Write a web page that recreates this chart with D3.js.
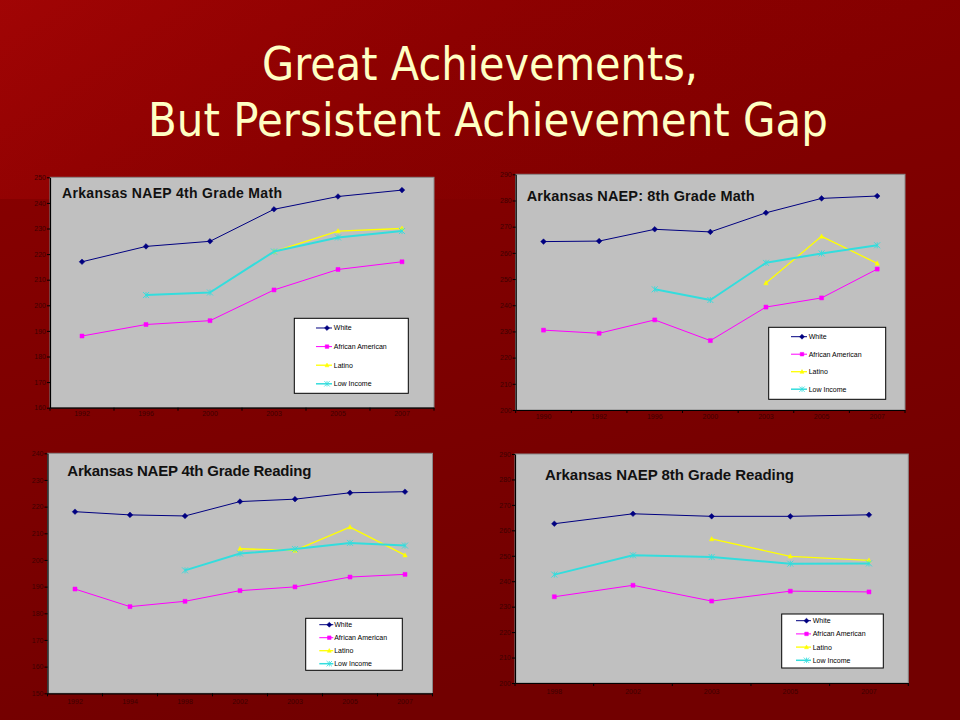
<!DOCTYPE html>
<html>
<head>
<meta charset="utf-8">
<script src="https://cdn.jsdelivr.net/npm/d3@7"></script>
<style>
  html, body { margin: 0; padding: 0; background: #7a0000; }
  svg { display: block; }
</style>
</head>
<body>
<svg id="slide" width="960" height="720"></svg>
<script>
// ---------------- DATA ----------------
const seriesNames = ["White", "African American", "Latino", "Low Income"];

const g4MathYears = ["1992", "1996", "2000", "2003", "2005", "2007"];
const g4MathWhite = [217, 223, 225, 237.5, 242.5, 245];
const g4MathAfricanAmerican = [188, 192.5, 194, 206, 214, 217];
const g4MathLatino = [null, null, null, 221, 229, 230];
const g4MathLowIncome = [null, 204, 205, 221, 226.5, 229];
const g4MathTicks = [160, 170, 180, 190, 200, 210, 220, 230, 240, 250];

const g8MathYears = ["1990", "1992", "1996", "2000", "2003", "2005", "2007"];
const g8MathWhite = [264.3, 264.5, 269, 268, 275.3, 280.8, 281.7];
const g8MathAfricanAmerican = [230.5, 229.3, 234.4, 226.5, 239.3, 242.8, 253.8];
const g8MathLatino = [null, null, null, null, 248.5, 266.3, 256];
const g8MathLowIncome = [null, null, 246.1, 242, 256.2, 259.8, 262.9];
const g8MathTicks = [200, 210, 220, 230, 240, 250, 260, 270, 280, 290];

const g4ReadYears = ["1992", "1994", "1998", "2002", "2003", "2005", "2007"];
const g4ReadWhite = [218.1, 216.9, 216.5, 221.9, 222.8, 225.2, 225.6];
const g4ReadAfricanAmerican = [189.1, 182.5, 184.5, 188.5, 189.9, 193.6, 194.6];
const g4ReadLatino = [null, null, null, 204.2, 203.6, 212.3, 201.8];
const g4ReadLowIncome = [null, null, 196.1, 202.4, 204.1, 206.4, 205.4];
const g4ReadTicks = [150, 160, 170, 180, 190, 200, 210, 220, 230, 240];

const g8ReadYears = ["1998", "2002", "2003", "2005", "2007"];
const g8ReadWhite = [262.6, 266.5, 265.5, 265.5, 266.1];
const g8ReadAfricanAmerican = [233.9, 238.4, 232.2, 236.1, 235.8];
const g8ReadLatino = [null, null, 256.6, 249.8, 248.2];
const g8ReadLowIncome = [242.6, 250.2, 249.5, 246.9, 247.0];
const g8ReadTicks = [200, 210, 220, 230, 240, 250, 260, 270, 280, 290];

const chartTitles = ["Arkansas NAEP 4th Grade Math", "Arkansas NAEP: 8th Grade Math",
                     "Arkansas NAEP 4th Grade Reading", "Arkansas NAEP 8th Grade Reading"];
const slideTitle = ["Great Achievements,", "But Persistent Achievement Gap"];

// ---------------- STYLE / LAYOUT ----------------
const seriesStyle = [
  { color: "#000080", width: 1,   marker: "diamond",  size: 2.8 },
  { color: "#ff00ff", width: 1,   marker: "square",   size: 4 },
  { color: "#ffff00", width: 1.3, marker: "triangle", size: 4 },
  { color: "#33dddd", width: 2,   marker: "star",     size: 3 }
];

const charts = [
  { years: g4MathYears, series: [g4MathWhite, g4MathAfricanAmerican, g4MathLatino, g4MathLowIncome], ticks: g4MathTicks,
    plot: { x: 50, y: 177.3, w: 384, h: 230.4 }, xlabDy: 8.5,
    title: { x: 62, y: 198, len: 220, size: 14 },
    legend: { x: 294.3, y: 318.3, w: 114, h: 75, r0: 9.7, step: 18.6, l1: 21.7, l2: 37.7, t: 39.5 } },
  { years: g8MathYears, series: [g8MathWhite, g8MathAfricanAmerican, g8MathLatino, g8MathLowIncome], ticks: g8MathTicks,
    plot: { x: 515.7, y: 174.3, w: 389.3, h: 235.7 }, xlabDy: 8.5,
    title: { x: 526.7, y: 201, len: 228, size: 14.5 },
    legend: { x: 768.7, y: 327.3, w: 117, h: 72, r0: 9.4, step: 17.5, l1: 22.3, l2: 38.3, t: 40 } },
  { years: g4ReadYears, series: [g4ReadWhite, g4ReadAfricanAmerican, g4ReadLatino, g4ReadLowIncome], ticks: g4ReadTicks,
    plot: { x: 47.5, y: 453.3, w: 385, h: 240 }, xlabDy: 11,
    title: { x: 67.3, y: 476, len: 244, size: 15 },
    legend: { x: 305.7, y: 618.3, w: 96.6, h: 52, r0: 6.4, step: 13, l1: 13.6, l2: 27.6, t: 28.5 } },
  { years: g8ReadYears, series: [g8ReadWhite, g8ReadAfricanAmerican, g8ReadLatino, g8ReadLowIncome], ticks: g8ReadTicks,
    plot: { x: 515, y: 454, w: 393.3, h: 229 }, xlabDy: 11,
    title: { x: 545, y: 480, len: 249, size: 15 },
    legend: { x: 781.7, y: 614, w: 101.6, h: 54, r0: 6.7, step: 13.2, l1: 14.3, l2: 29.3, t: 31 } }
];

const svg = d3.select("#slide");

// ---------------- BACKGROUND ----------------
const defs = svg.append("defs");
const bg = defs.append("linearGradient").attr("id", "bgGrad")
  .attr("x1", "0").attr("y1", "0").attr("x2", "0.35").attr("y2", "1");
bg.append("stop").attr("offset", "0").attr("stop-color", "#8c0000");
bg.append("stop").attr("offset", "1").attr("stop-color", "#720000");
const band = defs.append("linearGradient").attr("id", "bandGrad")
  .attr("x1", "0").attr("y1", "0").attr("x2", "1").attr("y2", "0.3");
band.append("stop").attr("offset", "0").attr("stop-color", "#a80606").attr("stop-opacity", 0.75);
band.append("stop").attr("offset", "0.5").attr("stop-color", "#9a0303").attr("stop-opacity", 0.3);
band.append("stop").attr("offset", "1").attr("stop-color", "#900000").attr("stop-opacity", 0);

svg.append("rect").attr("width", 960).attr("height", 720).attr("fill", "url(#bgGrad)");
svg.append("rect").attr("width", 960).attr("height", 199).attr("fill", "url(#bandGrad)");

// ---------------- SLIDE TITLE ----------------
const titleFont = "'DejaVu Sans', Tahoma, Verdana, sans-serif";
const titleLines = [
  { x: 262, y: 80, len: 436 },
  { x: 148, y: 136, len: 680 }
];
slideTitle.forEach((t, i) => {
  svg.append("text")
    .attr("x", titleLines[i].x).attr("y", titleLines[i].y)
    .attr("font-family", titleFont).attr("font-size", 47)
    .attr("fill", "#ffffc4")
    .attr("textLength", titleLines[i].len).attr("lengthAdjust", "spacingAndGlyphs")
    .text(t);
});

// ---------------- MARKERS ----------------
function markerPath(type, s) {
  if (type === "diamond") return `M0,${-s}L${s},0L0,${s}L${-s},0Z`;
  if (type === "square") return `M${-s/2},${-s/2}h${s}v${s}h${-s}Z`;
  if (type === "triangle") return `M0,${-s*0.6}L${s*0.55},${s*0.45}L${-s*0.55},${s*0.45}Z`;
  return `M${-s},${-s}L${s},${s}M${-s},${s}L${s},${-s}M0,${-s}L0,${s}`;
}

const labelFont = "'Liberation Sans', Arial, sans-serif";

// ---------------- CHARTS ----------------
charts.forEach((c, ci) => {
  const g = svg.append("g");
  const p = c.plot;

  const x = d3.scaleBand().domain(c.years).range([p.x, p.x + p.w]).padding(0);
  const y = d3.scaleLinear().domain([c.ticks[0], c.ticks[c.ticks.length - 1]]).range([p.y + p.h, p.y]);

  g.append("rect").attr("x", p.x).attr("y", p.y).attr("width", p.w).attr("height", p.h)
    .attr("fill", "#c0c0c0").attr("stroke", "#8a8a8a").attr("stroke-width", 1);

  const yAxis = d3.axisLeft(y).tickValues(c.ticks).tickSize(3).tickSizeOuter(0).tickFormat(d3.format("d"));
  const ya = g.append("g").attr("transform", `translate(${p.x},0)`).call(yAxis);
  ya.select(".domain").attr("stroke", "#000").attr("stroke-width", 1.2);
  ya.selectAll(".tick line").attr("stroke", "#000");
  ya.selectAll(".tick text").attr("font-family", labelFont).attr("font-size", 7)
    .attr("fill", "#3c0000").attr("x", -4);

  const xa = g.append("g").attr("transform", `translate(0,${p.y + p.h})`)
    .call(d3.axisBottom(x).tickSize(0).tickSizeOuter(0));
  xa.select(".domain").attr("stroke", "#000").attr("stroke-width", 1.2);
  xa.selectAll(".tick text").attr("font-family", labelFont).attr("font-size", 7)
    .attr("fill", "#3c0000").attr("dy", null).attr("y", c.xlabDy);
  const bounds = c.years.map(d => x(d)).concat([x(c.years[c.years.length - 1]) + x.bandwidth()]);
  xa.selectAll(".bt").data(bounds).enter().append("line")
    .attr("x1", d => d).attr("x2", d => d).attr("y1", 0).attr("y2", 3)
    .attr("stroke", "#000");

  g.append("text").attr("x", c.title.x).attr("y", c.title.y)
    .attr("font-family", labelFont).attr("font-weight", "bold").attr("font-size", c.title.size)
    .attr("fill", "#111").attr("textLength", c.title.len).attr("lengthAdjust", "spacing")
    .text(chartTitles[ci]);

  const cx = d => x(d) + x.bandwidth() / 2;
  c.series.forEach((vals, si) => {
    const st = seriesStyle[si];
    const pts = c.years.map((yr, i) => ({ yr, v: vals[i] }));
    const line = d3.line().defined(d => d.v != null).x(d => cx(d.yr)).y(d => y(d.v));
    g.append("path").datum(pts).attr("d", line).attr("fill", "none")
      .attr("stroke", st.color).attr("stroke-width", st.width).attr("stroke-linejoin", "round");
    g.selectAll(null).data(pts.filter(d => d.v != null)).enter().append("path")
      .attr("transform", d => `translate(${cx(d.yr)},${y(d.v)})`)
      .attr("d", markerPath(st.marker, st.size))
      .attr("fill", st.marker === "star" ? "none" : st.color)
      .attr("stroke", st.color).attr("stroke-width", st.marker === "star" ? 0.9 : 0.5);
  });

  const L = c.legend;
  const lg = g.append("g").attr("transform", `translate(${L.x},${L.y})`);
  lg.append("rect").attr("width", L.w).attr("height", L.h).attr("fill", "#fff")
    .attr("stroke", "#000").attr("stroke-width", 1);
  seriesNames.forEach((name, si) => {
    const st = seriesStyle[si];
    const ry = L.r0 + si * L.step;
    lg.append("line").attr("x1", L.l1).attr("x2", L.l2).attr("y1", ry).attr("y2", ry)
      .attr("stroke", st.color).attr("stroke-width", Math.min(st.width, 1.5));
    lg.append("path").attr("transform", `translate(${(L.l1 + L.l2) / 2 + 3},${ry})`)
      .attr("d", markerPath(st.marker, st.size * 0.9))
      .attr("fill", st.marker === "star" ? "none" : st.color)
      .attr("stroke", st.color).attr("stroke-width", st.marker === "star" ? 0.8 : 0.5);
    lg.append("text").attr("x", L.t).attr("y", ry + 2.5)
      .attr("font-family", labelFont).attr("font-size", 7).attr("fill", "#000")
      .text(name);
  });
});
</script>
</body>
</html>
